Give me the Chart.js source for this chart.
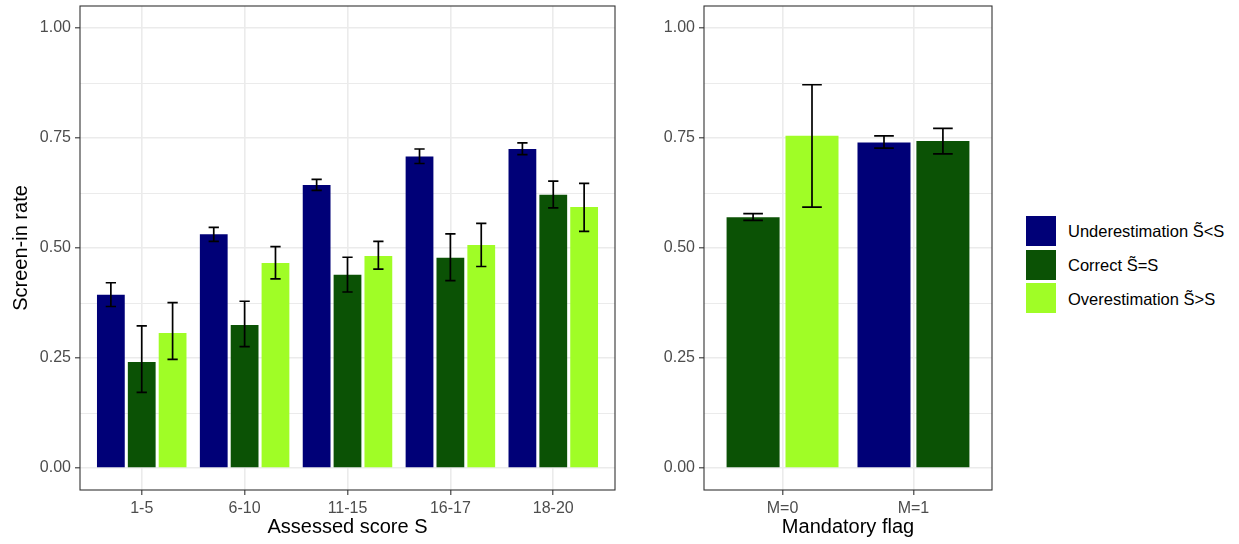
<!DOCTYPE html>
<html>
<head>
<meta charset="utf-8">
<title>Screen-in rate by assessed score and mandatory flag</title>
<script src="https://cdn.jsdelivr.net/npm/chart.js@4.4.1/dist/chart.umd.min.js"></script>
<style>
  html, body { margin: 0; padding: 0; background: #ffffff; }
  #page { position: relative; width: 1239px; height: 544px; overflow: hidden; font-family: "Liberation Sans", Arial, sans-serif; }
  #scoreBox { position: absolute; left: 0; top: 0; width: 620px; height: 544px; }
  #flagBox { position: absolute; left: 620px; top: 0; width: 380px; height: 544px; }
  #legend { position: absolute; left: 1026px; top: 214px; }
  .item { display: flex; align-items: center; height: 33.7px; }
  .swatch { width: 30px; height: 30px; margin-right: 12px; }
  .label { font-size: 16.5px; color: #000000; white-space: nowrap; position: relative; top: 1px; }
</style>
</head>
<body>
<div id="page">
  <div id="scoreBox"><canvas id="scoreChart" width="620" height="544"></canvas></div>
  <div id="flagBox"><canvas id="flagChart" width="380" height="544"></canvas></div>
  <div id="legend"></div>
</div>
<script>
// Series shared by both panels
const seriesNames = ['Underestimation S\u0303<S', 'Correct S\u0303=S', 'Overestimation S\u0303>S'];
const seriesColors = ['#000077', '#0b5205', '#a0fd26'];

// Panel 1: assessed score bands
const scoreBands = ['1-5', '6-10', '11-15', '16-17', '18-20'];
const underRate  = [0.394, 0.531, 0.643, 0.708, 0.725];
const underLow   = [0.367, 0.515, 0.631, 0.692, 0.712];
const underHigh  = [0.421, 0.547, 0.656, 0.725, 0.739];
const correctRate = [0.241, 0.325, 0.439, 0.478, 0.621];
const correctLow  = [0.172, 0.276, 0.400, 0.426, 0.591];
const correctHigh = [0.323, 0.379, 0.479, 0.532, 0.652];
const overRate  = [0.307, 0.466, 0.482, 0.507, 0.593];
const overLow   = [0.247, 0.430, 0.452, 0.458, 0.538];
const overHigh  = [0.376, 0.503, 0.515, 0.556, 0.647];

// Panel 2: mandatory flag (missing combinations are null)
const flagLevels = ['M=0', 'M=1'];
const flagUnderRate  = [null, 0.740];
const flagUnderLow   = [null, 0.727];
const flagUnderHigh  = [null, 0.755];
const flagCorrectRate = [0.570, 0.743];
const flagCorrectLow  = [0.563, 0.714];
const flagCorrectHigh = [0.578, 0.772];
const flagOverRate  = [0.755, null];
const flagOverLow   = [0.593, null];
const flagOverHigh  = [0.871, null];

// Y axis ticks
const rateTicks = [0, 0.25, 0.5, 0.75, 1];
const rateMinorTicks = [0.125, 0.375, 0.625, 0.875];

const FONT = '"Liberation Sans", Arial, sans-serif';
Chart.defaults.font.family = FONT;

const isMajor = v => rateTicks.some(t => Math.abs(t - v) < 1e-9);

// Confidence interval whiskers drawn over each bar
const errorBars = {
  id: 'errorBars',
  afterDatasetsDraw(chart) {
    const ctx = chart.ctx;
    const yScale = chart.scales.y;
    ctx.save();
    ctx.strokeStyle = '#000000';
    ctx.lineWidth = 1.7;
    chart.data.datasets.forEach((ds, di) => {
      const meta = chart.getDatasetMeta(di);
      meta.data.forEach((bar, i) => {
        if (ds.data[i].y == null || !isFinite(bar.width)) return;
        const top = yScale.getPixelForValue(ds.errHigh[i]);
        const bottom = yScale.getPixelForValue(ds.errLow[i]);
        const half = bar.width / 0.9 / 6;
        ctx.beginPath();
        ctx.moveTo(bar.x, top); ctx.lineTo(bar.x, bottom);
        ctx.moveTo(bar.x - half, top); ctx.lineTo(bar.x + half, top);
        ctx.moveTo(bar.x - half, bottom); ctx.lineTo(bar.x + half, bottom);
        ctx.stroke();
      });
    });
    ctx.restore();
  }
};

// Box around the plotting panel
const panelBorder = {
  id: 'panelBorder',
  afterDraw(chart) {
    const a = chart.chartArea;
    const ctx = chart.ctx;
    ctx.save();
    ctx.strokeStyle = '#333333';
    ctx.lineWidth = 1.1;
    ctx.strokeRect(a.left, a.top, a.right - a.left, a.bottom - a.top);
    ctx.restore();
  }
};

function makePanel(canvasId, levels, series, xTitle, yTitle, yAxisWidth, padRight) {
  const datasets = series.map(s => ({
    label: seriesNames[s.k],
    backgroundColor: seriesColors[s.k],
    borderWidth: 0,
    data: levels.map((_, i) => ({ x: i + 1, y: s.rate[i] })),
    errLow: s.low,
    errHigh: s.high,
    barPercentage: 0.9,
    categoryPercentage: 0.9,
    skipNull: true
  }));

  return new Chart(document.getElementById(canvasId), {
    type: 'bar',
    data: { datasets },
    options: {
      responsive: false,
      animation: false,
      devicePixelRatio: 1,
      layout: { padding: { top: 6, right: padRight, left: 0, bottom: 0 } },
      plugins: { legend: { display: false }, tooltip: { enabled: false } },
      scales: {
        x: {
          type: 'linear',
          min: 0.4,
          max: levels.length + 0.6,
          offset: false,
          afterBuildTicks: ax => { ax.ticks = levels.map((_, i) => ({ value: i + 1 })); },
          ticks: {
            callback: v => levels[Math.round(v) - 1] ?? '',
            color: '#4d4d4d',
            font: { size: 16 },
            padding: 4,
            maxRotation: 0,
            autoSkip: false
          },
          grid: {
            offset: false,
            color: '#ebebeb',
            lineWidth: 1.6,
            drawTicks: true,
            tickLength: 5,
            tickColor: '#333333',
            tickWidth: 1.1
          },
          border: { display: false },
          title: {
            display: true,
            text: xTitle,
            color: '#000000',
            font: { size: 20 },
            padding: { top: 0, bottom: 4.5 }
          },
          afterFit: ax => { ax.height = 54; ax.paddingLeft = 0; ax.paddingRight = 0; }
        },
        y: {
          type: 'linear',
          min: -0.05,
          max: 1.05,
          afterBuildTicks: ax => {
            ax.ticks = rateTicks.concat(rateMinorTicks).sort((a, b) => a - b).map(v => ({ value: v }));
          },
          ticks: {
            callback: v => isMajor(v) ? v.toFixed(2) : '',
            color: '#4d4d4d',
            font: { size: 16 },
            padding: 4,
            autoSkip: false
          },
          grid: {
            color: '#ebebeb',
            lineWidth: c => (c.tick && isMajor(c.tick.value)) ? 1.6 : 1.0,
            drawTicks: true,
            tickLength: 5,
            tickColor: c => (c.tick && isMajor(c.tick.value)) ? '#333333' : 'rgba(0,0,0,0)',
            tickWidth: 1.1
          },
          border: { display: false },
          title: {
            display: !!yTitle,
            text: yTitle || '',
            color: '#000000',
            font: { size: 20 },
            padding: { top: 9, bottom: 0 }
          },
          afterFit: ax => { ax.width = yAxisWidth; ax.paddingTop = 0; ax.paddingBottom = 0; }
        }
      }
    },
    plugins: [errorBars, panelBorder]
  });
}

makePanel('scoreChart', scoreBands, [
  { k: 0, rate: underRate, low: underLow, high: underHigh },
  { k: 1, rate: correctRate, low: correctLow, high: correctHigh },
  { k: 2, rate: overRate, low: overLow, high: overHigh }
], 'Assessed score S', 'Screen-in rate', 80, 5);

makePanel('flagChart', flagLevels, [
  { k: 0, rate: flagUnderRate, low: flagUnderLow, high: flagUnderHigh },
  { k: 1, rate: flagCorrectRate, low: flagCorrectLow, high: flagCorrectHigh },
  { k: 2, rate: flagOverRate, low: flagOverLow, high: flagOverHigh }
], 'Mandatory flag', null, 84, 8);

// Legend built from the series arrays
const legend = document.getElementById('legend');
seriesNames.forEach((name, i) => {
  const item = document.createElement('div');
  item.className = 'item';
  const sw = document.createElement('div');
  sw.className = 'swatch';
  sw.style.background = seriesColors[i];
  const lab = document.createElement('div');
  lab.className = 'label';
  lab.textContent = name;
  item.appendChild(sw);
  item.appendChild(lab);
  legend.appendChild(item);
});
</script>
</body>
</html>
